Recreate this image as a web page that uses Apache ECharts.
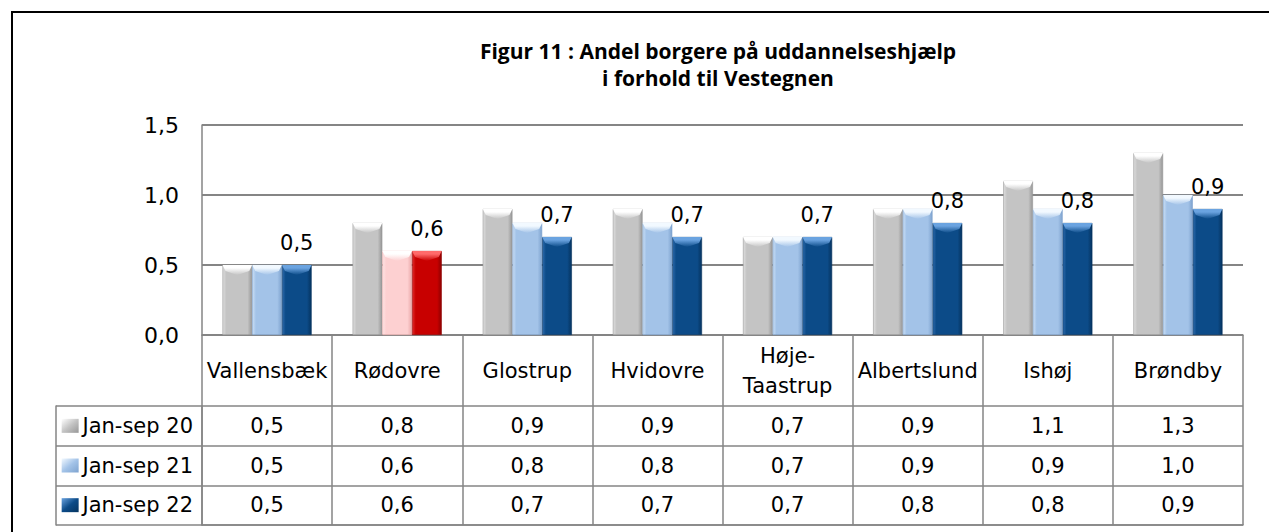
<!DOCTYPE html>
<html>
<head>
<meta charset="utf-8">
<title>Figur 11</title>
<script src="https://cdn.jsdelivr.net/npm/echarts@6/dist/echarts.min.js"></script>
<style>
  html, body { margin: 0; padding: 0; background: #fff; }
  #chart { width: 1269px; height: 532px; }
</style>
</head>
<body>
<div id="chart"></div>
<script>
// data
const categories = ['Vallensbæk', 'Rødovre', 'Glostrup', 'Hvidovre', 'Høje-Taastrup', 'Albertslund', 'Ishøj', 'Brøndby'];
const seriesNames = ['Jan-sep 20', 'Jan-sep 21', 'Jan-sep 22'];
const jan20 = [0.5, 0.8, 0.9, 0.9, 0.7, 0.9, 1.1, 1.3];
const jan21 = [0.5, 0.6, 0.8, 0.8, 0.7, 0.9, 0.9, 1.0];
const jan22 = [0.5, 0.6, 0.7, 0.7, 0.7, 0.8, 0.8, 0.9];
const yTicks = [0, 0.5, 1.0, 1.5];
const titleLines = ['Figur 11 : Andel borgere på uddannelseshjælp', 'i forhold til Vestegnen'];

const allValues = [jan20, jan21, jan22];
const highlight = 'Rødovre'; // the municipality drawn in red

const FONT = '"DejaVu Sans", sans-serif';
const GRID_C = '#858585';
const fmt = v => v.toFixed(1).replace('.', ',');

// colours: [left light, main, right dark, top bevel]
const palettes = [
  ['#dedede', '#c4c4c4', '#979797', '#ffffff'],
  ['#c9def5', '#a3c3e8', '#7ea3cf', '#f2f9ff'],
  ['#2d6aab', '#0c4b88', '#05335f', '#6aa3e0']
];
const redPalettes = [
  palettes[0],
  ['#ffe4e4', '#fdd0d1', '#eaa9aa', '#ffffff'],
  ['#e02a2a', '#c80000', '#8e0000', '#ff6a6a']
];

function sideGrad(p) {
  return new echarts.graphic.LinearGradient(0, 0, 1, 0, [
    { offset: 0, color: p[0] },
    { offset: 0.12, color: p[1] },
    { offset: 0.85, color: p[1] },
    { offset: 1, color: p[2] }
  ]);
}
function topGrad(p) {
  return new echarts.graphic.LinearGradient(0, 0, 0, 1, [
    { offset: 0, color: p[3] },
    { offset: 0.3, color: p[3] },
    { offset: 1, color: p[1] }
  ]);
}
function keyGrad(p) {
  return new echarts.graphic.LinearGradient(0, 0, 1, 1, [
    { offset: 0, color: p[3] },
    { offset: 0.5, color: p[1] },
    { offset: 1, color: p[2] }
  ]);
}

const barCatGap = '31.5%';
const series = [];

allValues.forEach(function (vals, s) {
  series.push({
    name: seriesNames[s],
    type: 'bar',
    xAxisIndex: 0,
    yAxisIndex: 0,
    barGap: '0%',
    barCategoryGap: barCatGap,
    data: vals.map(function (v, i) {
      const p = categories[i] === highlight ? redPalettes[s] : palettes[s];
      return { value: v, itemStyle: { color: sideGrad(p), borderColor: p[2], borderWidth: 0.6 } };
    }),
    label: {
      show: s === 2,
      position: 'top',
      distance: 12,
      fontFamily: FONT,
      fontSize: 21,
      color: '#000',
      formatter: function (p) { return fmt(p.value); }
    },
    z: 2
  });
});

// top bevel of each bar
allValues.forEach(function (vals, s) {
  series.push({
    name: seriesNames[s] + ' top',
    type: 'pictorialBar',
    xAxisIndex: 0,
    yAxisIndex: 0,
    barGap: '0%',
    barCategoryGap: barCatGap,
    symbol: 'path://M0,0 L30,0 L27,6 L15,10 L3,6 Z',
    symbolSize: ['100%', 10],
    symbolPosition: 'end',
    silent: true,
    data: vals.map(function (v, i) {
      const p = categories[i] === highlight ? redPalettes[s] : palettes[s];
      return { value: v, itemStyle: { color: topGrad(p) } };
    }),
    z: 3
  });
});

// values in the data table below the plot
allValues.forEach(function (vals, s) {
  series.push({
    name: seriesNames[s] + ' table',
    type: 'scatter',
    xAxisIndex: 1,
    yAxisIndex: 1,
    symbolSize: 1,
    itemStyle: { color: '#fff', opacity: 1 },
    silent: true,
    data: vals.map(function (v, i) { return [categories[i], seriesNames[s], v]; }),
    label: {
      show: true,
      position: 'inside',
      fontFamily: FONT,
      fontSize: 21,
      color: '#000',
      opacity: 1,
      textBorderWidth: 0,
      textBorderColor: 'transparent',
      formatter: function (p) { return fmt(p.value[2]); }
    }
  });
});

const keyRich = { t: { fontFamily: FONT, fontSize: 21, color: '#000' } };
palettes.forEach(function (p, s) {
  keyRich['k' + s] = { width: 17, height: 14, backgroundColor: keyGrad(p) };
});

const titleStyle = {
  fontFamily: '"Open Sans", sans-serif',
  fontWeight: 'bold',
  fontSize: 21,
  align: 'center',
  verticalAlign: 'middle',
  fill: '#000'
};

const option = {
  animation: false,
  backgroundColor: '#fff',
  textStyle: { fontFamily: FONT },
  grid: [
    { left: 202, right: 26, top: 125, bottom: 197 },
    { left: 202, right: 26, top: 406, bottom: 7 }
  ],
  xAxis: [
    {
      gridIndex: 0,
      type: 'category',
      data: categories,
      boundaryGap: true,
      axisLine: { show: true, lineStyle: { color: GRID_C, width: 1.5 } },
      axisTick: { show: true, length: 71, inside: false, lineStyle: { color: GRID_C, width: 1.5 } },
      axisLabel: {
        interval: 0,
        margin: 36,
        verticalAlign: 'middle',
        lineHeight: 30,
        fontFamily: FONT,
        fontSize: 21,
        color: '#000',
        formatter: function (v) { return v.replace('-', '-\n'); }
      },
      splitLine: { show: false }
    },
    {
      gridIndex: 1,
      type: 'category',
      data: categories,
      boundaryGap: true,
      axisLine: { show: true, lineStyle: { color: GRID_C, width: 1.5 } },
      axisTick: { show: false },
      axisLabel: { show: false },
      splitLine: { show: true, lineStyle: { color: GRID_C, width: 1.5 } }
    }
  ],
  yAxis: [
    {
      gridIndex: 0,
      type: 'value',
      min: yTicks[0],
      max: yTicks[yTicks.length - 1],
      interval: yTicks[1] - yTicks[0],
      axisLine: { show: true, lineStyle: { color: GRID_C, width: 1.5 } },
      axisTick: { show: false },
      axisLabel: {
        margin: 23,
        fontFamily: FONT,
        fontSize: 22,
        color: '#000',
        formatter: fmt
      },
      splitLine: { show: true, lineStyle: { color: GRID_C, width: 1.8 } }
    },
    {
      gridIndex: 1,
      type: 'category',
      data: seriesNames,
      inverse: true,
      boundaryGap: true,
      axisLine: { show: true, lineStyle: { color: GRID_C, width: 1.5 } },
      axisTick: { show: true, length: 146, lineStyle: { color: GRID_C, width: 1.5 } },
      axisLabel: {
        margin: 9,
        rich: keyRich,
        formatter: function (v) {
          return '{k' + seriesNames.indexOf(v) + '|} {t|' + v + '}';
        }
      },
      splitLine: { show: true, lineStyle: { color: GRID_C, width: 1.5 } }
    },
    {
      // outer left edge of the legend column
      gridIndex: 1,
      type: 'category',
      data: seriesNames,
      inverse: true,
      position: 'left',
      offset: 146,
      axisLine: { show: true, lineStyle: { color: GRID_C, width: 1.5 } },
      axisTick: { show: false },
      axisLabel: { show: false },
      splitLine: { show: false }
    }
  ],
  graphic: [
    {
      type: 'rect',
      shape: { x: 12, y: 12, width: 1400, height: 700 },
      style: { fill: 'none', stroke: '#000', lineWidth: 2 },
      silent: true,
      z: -1
    },
    {
      type: 'text',
      x: 718,
      y: 51,
      style: Object.assign({ text: titleLines[0] }, titleStyle)
    },
    {
      type: 'text',
      x: 718,
      y: 78,
      style: Object.assign({ text: titleLines[1] }, titleStyle)
    }
  ],
  series: series
};

const chart = echarts.init(document.getElementById('chart'), null, { renderer: 'svg' });
chart.setOption(option);
</script>
</body>
</html>
